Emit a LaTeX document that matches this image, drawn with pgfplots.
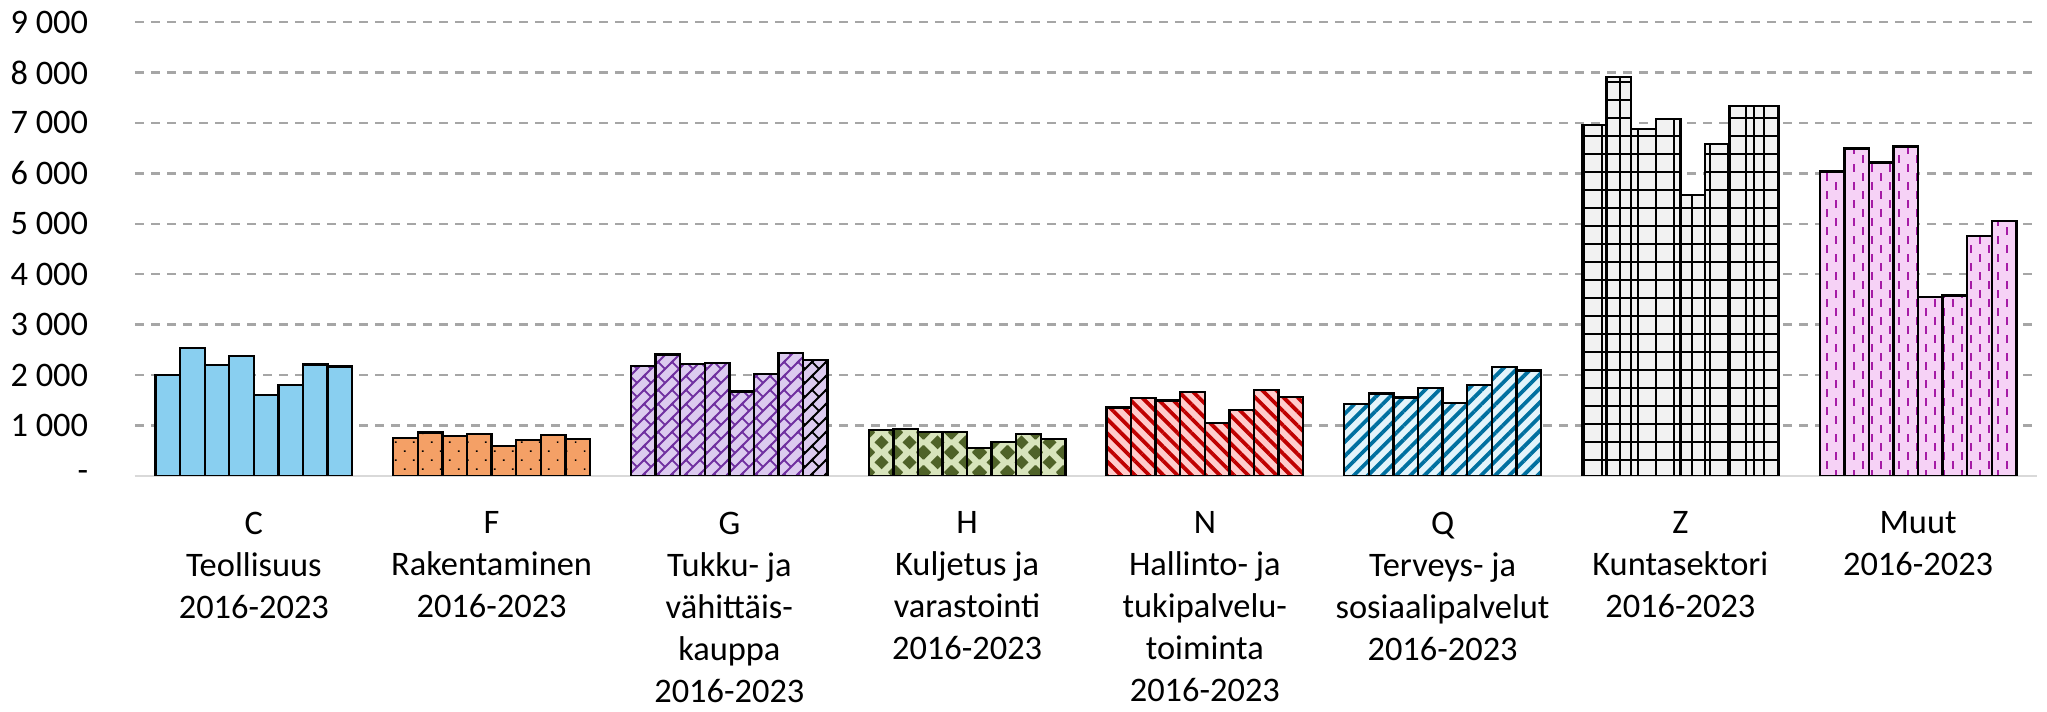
\documentclass[border=0pt]{standalone}
\usepackage{fontspec}
\setmainfont{Carlito}
\usepackage{pgfplots}
\pgfplotsset{compat=1.18}
\usetikzlibrary{patterns.meta}

\definecolor{cC}{HTML}{89CFF0}
\definecolor{cF}{HTML}{F4A066}
\definecolor{cG}{HTML}{DCCBEF}
\definecolor{pG}{HTML}{7030A0}
\definecolor{cH}{HTML}{D8E4BC}
\definecolor{pH}{HTML}{4F6228}
\definecolor{cN}{HTML}{FFCCCC}
\definecolor{pN}{HTML}{C00000}
\definecolor{cQ}{HTML}{E3F4FB}
\definecolor{pQ}{HTML}{0070A0}
\definecolor{cZ}{HTML}{F2F2F2}
\definecolor{cM}{HTML}{F6D2F6}
\definecolor{pM}{HTML}{A61CA6}
\definecolor{gridc}{HTML}{A6A6A6}

\tikzdeclarepattern{
  name=BrickDiag, type=uncolored,
  bottom left={(-0.5pt,-0.5pt)}, top right={(4pt,4pt)},
  tile size={(3.5pt,3.5pt)},
  code={
    \draw[line width=0.45pt] (-0.5pt,-0.5pt) -- (4pt,4pt);
    \draw[line width=0.45pt] (0pt,3.5pt) -- (1.75pt,1.75pt);
  }
}
\tikzdeclarepattern{
  name=VDash, type=uncolored,
  bottom left={(-0.5pt,0pt)}, top right={(4pt,4.5pt)},
  tile size={(4.5pt,4.5pt)},
  code={
    \draw[line width=0.5pt] (0pt,0pt) -- (0pt,2pt);
    \draw[line width=0.5pt] (2.25pt,2.25pt) -- (2.25pt,4.25pt);
  }
}
\tikzdeclarepattern{
  name=Diam, type=uncolored,
  bottom left={(0pt,0pt)}, top right={(7pt,5pt)},
  tile size={(7pt,5pt)},
  code={
    \fill (-1.8pt,0pt) -- (0pt,1.8pt) -- (1.8pt,0pt) -- (0pt,-1.8pt) -- cycle;
    \fill (5.2pt,0pt) -- (7pt,1.8pt) -- (8.8pt,0pt) -- (7pt,-1.8pt) -- cycle;
    \fill (-1.8pt,5pt) -- (0pt,6.8pt) -- (1.8pt,5pt) -- (0pt,3.2pt) -- cycle;
    \fill (5.2pt,5pt) -- (7pt,6.8pt) -- (8.8pt,5pt) -- (7pt,3.2pt) -- cycle;
    \fill (1.7pt,2.5pt) -- (3.5pt,4.3pt) -- (5.3pt,2.5pt) -- (3.5pt,0.7pt) -- cycle;
  }
}

\begin{document}
\begin{tikzpicture}
\begin{axis}[
  at={(0,0)}, anchor=south west,
  scale only axis, width=475.5pt, height=113.5pt,
  xmin=-0.5, xmax=7.5, ymin=0, ymax=9000,
  enlargelimits=false,
  axis x line=bottom, axis y line=left,
  every outer x axis line/.append style={-},
  x axis line style={-, draw=black!15, line width=0.6pt},
  y axis line style={draw=none},
  xtick={0,1,2,3,4,5,6,7},
  xticklabels={
    {C\\Teollisuus\\2016-2023},
    {F\\Rakentaminen\\2016-2023},
    {G\\Tukku- ja\\vähittäis-\\kauppa\\2016-2023},
    {H\\Kuljetus ja\\varastointi\\2016-2023},
    {N\\Hallinto- ja\\tukipalvelu-\\toiminta\\2016-2023},
    {Q\\Terveys- ja\\sosiaalipalvelut\\2016-2023},
    {Z\\Kuntasektori\\2016-2023},
    {Muut\\2016-2023}},
  ytick={0,1000,2000,3000,4000,5000,6000,7000,8000,9000},
  yticklabels={{-\hspace{4.75pt}},{1~000},{2~000},{3~000},{4~000},{5~000},{6~000},{7~000},{8~000},{9~000}},
  major tick length=0pt,
  tick style={draw=none},
  ymajorgrids,
  grid style={draw=gridc, line width=0.6pt, dash pattern=on 2.2pt off 1.8pt},
  tick label style={font=\fontsize{8.6}{10.5}\selectfont},
  xticklabel style={align=center, anchor=north, yshift=-5.4pt},
  yticklabel style={anchor=east, xshift=-8.2pt},
  bar width=0.1034,
]
% C Teollisuus
\addplot[ybar, bar shift=0, fill=cC, draw=black, line width=0.6pt] coordinates {
 (-0.3619,2004) (-0.2585,2533) (-0.1551,2196) (-0.0517,2374) (0.0517,1607) (0.1551,1799) (0.2585,2209) (0.3619,2169)};
% F Rakentaminen
\addplot[ybar, bar shift=0, preaction={fill=cF}, pattern={Dots[angle=45,distance=3.18pt,radius=0.3pt]}, pattern color=black, draw=black, line width=0.6pt] coordinates {
 (0.6381,748) (0.7415,861) (0.8449,788) (0.9483,834) (1.0517,596) (1.1551,709) (1.2585,808) (1.3619,735)};
% G Tukku- ja vahittaiskauppa
\addplot[ybar, bar shift=0, preaction={fill=cG}, pattern=BrickDiag, pattern color=pG, draw=black, line width=0.6pt] coordinates {
 (1.6381,2185) (1.7415,2411) (1.8449,2225) (1.9483,2245) (2.0517,1675) (2.1551,2026) (2.2585,2444)};
\addplot[ybar, bar shift=0, preaction={fill=cG}, pattern=BrickDiag, pattern color=black, draw=black, line width=0.6pt] coordinates {
 (2.3619,2298)};
% H Kuljetus ja varastointi
\addplot[ybar, bar shift=0, preaction={fill=cH}, pattern=Diam, pattern color=pH, draw=black, line width=0.6pt] coordinates {
 (2.6381,907) (2.7415,927) (2.8449,868) (2.9483,874) (3.0517,550) (3.1551,675) (3.2585,828) (3.3619,728)};
% N Hallinto- ja tukipalvelutoiminta
\addplot[ybar, bar shift=0, preaction={fill=cN}, pattern={Lines[angle=-45,distance=2.5pt,line width=0.95pt]}, pattern color=pN, draw=black, line width=0.6pt] coordinates {
 (3.6381,1358) (3.7415,1550) (3.8449,1497) (3.9483,1662) (4.0517,1053) (4.1551,1311) (4.2585,1709) (4.3619,1563)};
% Q Terveys- ja sosiaalipalvelut
\addplot[ybar, bar shift=0, preaction={fill=cQ}, pattern={Lines[angle=45,distance=2.5pt,line width=0.95pt]}, pattern color=pQ, draw=black, line width=0.6pt] coordinates {
 (4.6381,1424) (4.7415,1636) (4.8449,1556) (4.9483,1748) (5.0517,1450) (5.1551,1801) (5.2585,2166) (5.3619,2093)};
% Z Kuntasektori
\addplot[ybar, bar shift=0, preaction={fill=cZ}, pattern={Hatch[angle=0,distance=4.5pt,line width=0.4pt]}, pattern color=black, draw=black, line width=0.6pt] coordinates {
 (5.6381,6960) (5.7415,7907) (5.8449,6874) (5.9483,7073) (6.0517,5570) (6.1551,6576) (6.2585,7338) (6.3619,7338)};
% Muut
\addplot[ybar, bar shift=0, preaction={fill=cM}, pattern=VDash, pattern color=pM, draw=black, line width=0.6pt] coordinates {
 (6.6381,6033) (6.7415,6490) (6.8449,6212) (6.9483,6530) (7.0517,3550) (7.1551,3576) (7.2585,4762) (7.3619,5060)};
\end{axis}
\pgfresetboundingbox
\path (-33.75pt,-59pt) rectangle (478pt,119pt);
\end{tikzpicture}
\end{document}
